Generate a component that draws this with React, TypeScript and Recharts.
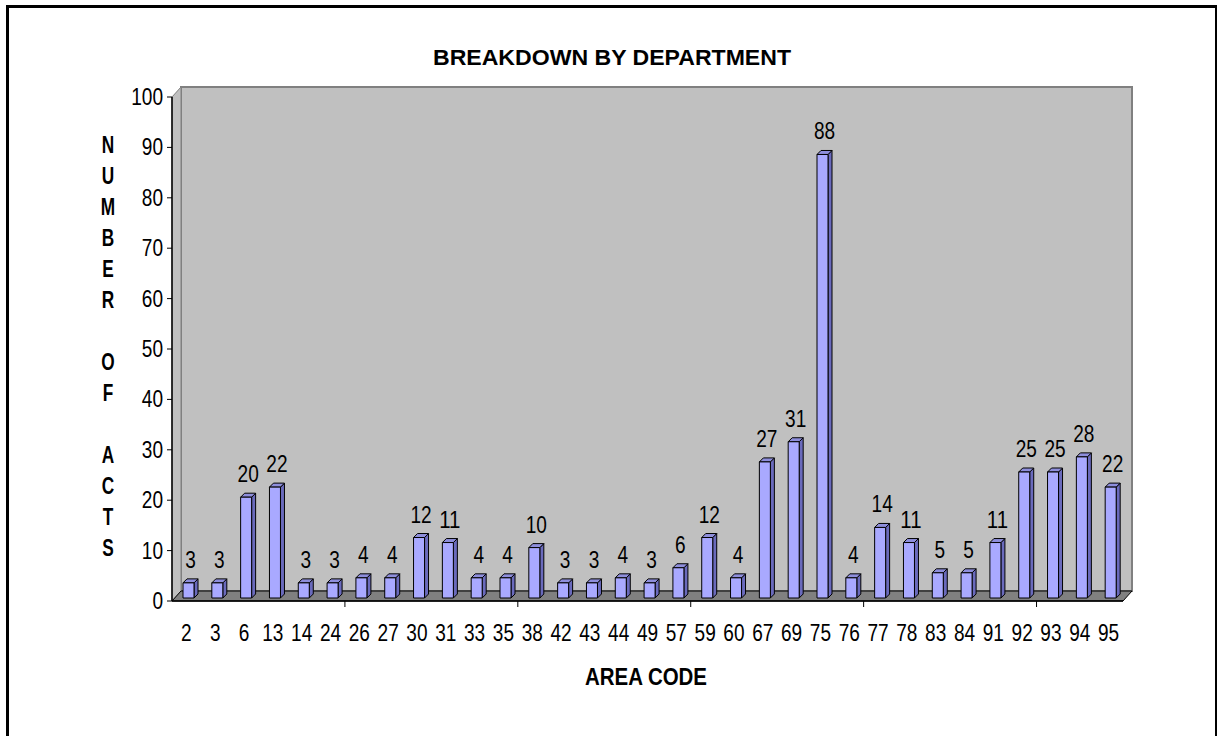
import { BarChart, Bar, XAxis, YAxis } from 'recharts';

const areaCodes = ['2', '3', '6', '13', '14', '24', '26', '27', '30', '31', '33', '35', '38', '42', '43', '44', '49', '57', '59', '60', '67', '69', '75', '76', '77', '78', '83', '84', '91', '92', '93', '94', '95'];
const actCounts = [3, 3, 20, 22, 3, 3, 4, 4, 12, 11, 4, 4, 10, 3, 3, 4, 3, 6, 12, 4, 27, 31, 88, 4, 14, 11, 5, 5, 11, 25, 25, 28, 22];
const yTicks = [0, 10, 20, 30, 40, 50, 60, 70, 80, 90, 100];
const chartTitle = 'BREAKDOWN BY DEPARTMENT';
const xTitle = 'AREA CODE';
const yTitle = 'NUMBER OF ACTS';

const data = areaCodes.map((code, i) => ({ code, acts: actCounts[i] }));

const W = 1217;
const H = 736;
// plot box (front edge of the 3d floor / left wall)
const P = { left: 172, top: 97, right: 1123, bottom: 601 };
const DX = 9;
const DY = -10;
const BAND = (P.right - P.left) / areaCodes.length;
const FONT = '"Liberation Sans", Arial, sans-serif';
const NUM_SIZE = 23;
const DIGIT_W = 10.6;

const FRONT = '#A9A9FF';
const SIDE = '#6A6ABC';
const TOP = '#8E8EDC';

function Bar3D(props: any) {
  const { x, y, width, height } = props;
  const fx = x + 2;
  const fy = y - 3;
  const d = 4;
  const r = fx + width;
  const b = fy + height;
  return (
    <g stroke="#000" strokeWidth={1} strokeLinejoin="round">
      <polygon points={`${r},${fy} ${r + d},${fy - d} ${r + d},${b - d} ${r},${b}`} fill={SIDE} />
      <polygon points={`${fx},${fy} ${fx + d},${fy - d} ${r + d},${fy - d} ${r},${fy}`} fill={TOP} />
      <rect x={fx} y={fy} width={width} height={height} fill={FRONT} />
    </g>
  );
}

function ValueLabel(props: any) {
  const { x, y, width, value } = props;
  const s = String(value);
  const cx = Number(x) + 2 + (Number(width) + 4) / 2;
  return (
    <text x={cx} y={Number(y) - 18} textAnchor="middle" fontSize={NUM_SIZE} fontFamily={FONT} fill="#000"
      textLength={s.length * DIGIT_W} lengthAdjust="spacingAndGlyphs">
      {s}
    </text>
  );
}

function XTick(props: any) {
  const { x, payload, index } = props;
  const s = String(payload.value);
  const showMark = (index + 1) % 6 === 0 && index < areaCodes.length - 1;
  return (
    <g>
      {showMark && <line x1={x + BAND / 2} x2={x + BAND / 2} y1={P.bottom} y2={P.bottom + 6} stroke="#000" />}
      <text x={x} y={P.bottom + 40} textAnchor="middle" fontSize={NUM_SIZE} fontFamily={FONT} fill="#000"
        textLength={s.length * DIGIT_W} lengthAdjust="spacingAndGlyphs">
        {s}
      </text>
    </g>
  );
}

function YTick(props: any) {
  const { x, y, payload } = props;
  const s = String(payload.value);
  return (
    <text x={x} y={y + 8} textAnchor="end" fontSize={NUM_SIZE} fontFamily={FONT} fill="#000"
      textLength={s.length * DIGIT_W} lengthAdjust="spacingAndGlyphs">
      {s}
    </text>
  );
}

function Backdrop() {
  const letters = yTitle.split('');
  return (
    <svg width={W} height={H} style={{ position: 'absolute', left: 0, top: 0 }}>
      <rect x={P.left + DX} y={P.top + DY} width={P.right - P.left} height={P.bottom - P.top} fill="#C0C0C0" stroke="#808080" strokeWidth={2} />
      <polygon points={`${P.left},${P.top} ${P.left + DX},${P.top + DY} ${P.left + DX},${P.bottom + DY} ${P.left},${P.bottom}`} fill="#C0C0C0" stroke="#808080" strokeWidth={1} />
      <polygon points={`${P.left},${P.bottom} ${P.left + DX},${P.bottom + DY} ${P.right + DX},${P.bottom + DY} ${P.right},${P.bottom}`} fill="#808080" stroke="#000" strokeWidth={1} />
      <text x={433} y={65} fontSize={22} fontWeight="bold" fontFamily={FONT} textLength={358} lengthAdjust="spacingAndGlyphs">{chartTitle}</text>
      <text x={585} y={685} fontSize={24} fontWeight="bold" fontFamily={FONT} textLength={122} lengthAdjust="spacingAndGlyphs">{xTitle}</text>
      {letters.map((ch, i) => (
        <text key={i} transform={`translate(108, ${153 + i * 31}) scale(0.75, 1)`} textAnchor="middle" fontSize={23} fontWeight="bold" fontFamily={FONT}>
          {ch}
        </text>
      ))}
    </svg>
  );
}

export default function App() {
  return (
    <div style={{ position: 'absolute', left: 0, top: 0, width: W, height: H, overflow: 'hidden', background: '#fff' }}>
      <Backdrop />
      <div style={{ position: 'absolute', left: 0, top: 0 }}>
        <BarChart width={W} height={H} data={data} margin={{ top: P.top, right: W - P.right, bottom: H - P.bottom - 40, left: P.left - 60 }} barSize={11}>
          <XAxis dataKey="code" height={40} interval={0} tickLine={false} axisLine={{ stroke: '#000', strokeWidth: 1.5 }} tick={<XTick />} />
          <YAxis domain={[0, 100]} ticks={yTicks} width={60} interval={0} tickSize={5} tickMargin={4}
            axisLine={{ stroke: '#000', strokeWidth: 1.5 }} tickLine={{ stroke: '#000' }} tick={<YTick />} />
          <Bar dataKey="acts" shape={<Bar3D />} label={<ValueLabel />} isAnimationActive={false} />
        </BarChart>
      </div>
      <div style={{ position: 'absolute', left: 6, top: 5, width: 1211, height: 731, boxSizing: 'border-box', borderLeft: '3px solid #000', borderTop: '3px solid #000', borderRight: '2px solid #000', pointerEvents: 'none' }} />
    </div>
  );
}
